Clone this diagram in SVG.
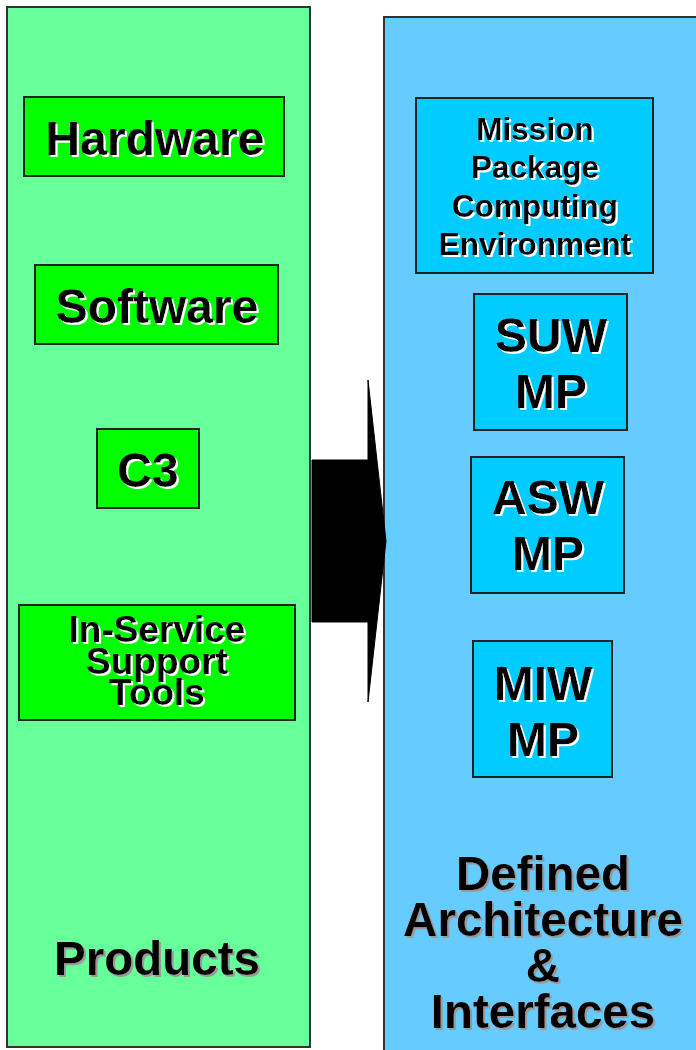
<svg xmlns="http://www.w3.org/2000/svg" width="696" height="1050" viewBox="0 0 696 1050">
<defs>
<filter id="shW" x="-10%" y="-10%" width="120%" height="130%"><feDropShadow dx="2" dy="2" stdDeviation="0" flood-color="#ffffff"/></filter>
<filter id="shG" x="-10%" y="-10%" width="120%" height="130%"><feDropShadow dx="2" dy="2" stdDeviation="0" flood-color="#999999"/></filter>
</defs>
<style>
text{font-family:"Liberation Sans",Arial,sans-serif;font-weight:bold;fill:#000;text-anchor:middle}
.panelL{fill:#66FF99;stroke:#333;stroke-width:2}
.panelR{fill:#66CCFF;stroke:#333;stroke-width:2}
.gbox{fill:#00FF00;stroke:#222;stroke-width:2}
.bbox{fill:#00CCFF;stroke:#222;stroke-width:2}
.w{filter:url(#shW)}
.g{filter:url(#shG)}
</style>
<rect width="696" height="1050" fill="#fff"/>
<g id="products">
<rect class="panelL" x="7" y="7" width="303" height="1040"/>
<text class="g" x="157" y="975" font-size="47.5">Products</text>
</g>
<g id="architecture">
<rect class="panelR" x="384" y="17" width="316" height="1040"/>
<text class="g" font-size="47.5"><tspan x="543" y="890">Defined</tspan><tspan x="543" y="936">Architecture</tspan><tspan x="543" y="982">&amp;</tspan><tspan x="543" y="1028">Interfaces</tspan></text>
</g>
<g id="hardware">
<rect class="gbox" x="24" y="97" width="260" height="79"/>
<text class="w" x="155" y="155" font-size="48">Hardware</text>
</g>
<g id="software">
<rect class="gbox" x="35" y="265" width="243" height="79"/>
<text class="w" x="157" y="323" font-size="48">Software</text>
</g>
<g id="c3">
<rect class="gbox" x="97" y="429" width="102" height="79"/>
<text class="w" x="148" y="487" font-size="48">C3</text>
</g>
<g id="isst">
<rect class="gbox" x="19" y="605" width="276" height="115"/>
<text class="w" font-size="37"><tspan x="157" y="642">In-Service</tspan><tspan x="157" y="674">Support</tspan><tspan x="157" y="705">Tools</tspan></text>
</g>
<g id="mpce">
<rect class="bbox" x="416" y="98" width="237" height="175"/>
<text class="w" font-size="31.5"><tspan x="535" y="140">Mission</tspan><tspan x="535" y="178">Package</tspan><tspan x="535" y="217">Computing</tspan><tspan x="535" y="255">Environment</tspan></text>
</g>
<g id="suw">
<rect class="bbox" x="474" y="294" width="153" height="136"/>
<text class="w" font-size="48"><tspan x="551" y="352">SUW</tspan><tspan x="551" y="408">MP</tspan></text>
</g>
<g id="asw">
<rect class="bbox" x="471" y="457" width="153" height="136"/>
<text class="w" font-size="48"><tspan x="548" y="514">ASW</tspan><tspan x="548" y="570">MP</tspan></text>
</g>
<g id="miw">
<rect class="bbox" x="473" y="641" width="139" height="136"/>
<text class="w" font-size="48"><tspan x="543" y="700">MIW</tspan><tspan x="543" y="756">MP</tspan></text>
</g>
<g id="connectors">
<path d="M312,460 H368 V380 L386,541 L368,702 V622 H312 Z" fill="#000" stroke="#000" stroke-width="1"/>
</g>
</svg>
